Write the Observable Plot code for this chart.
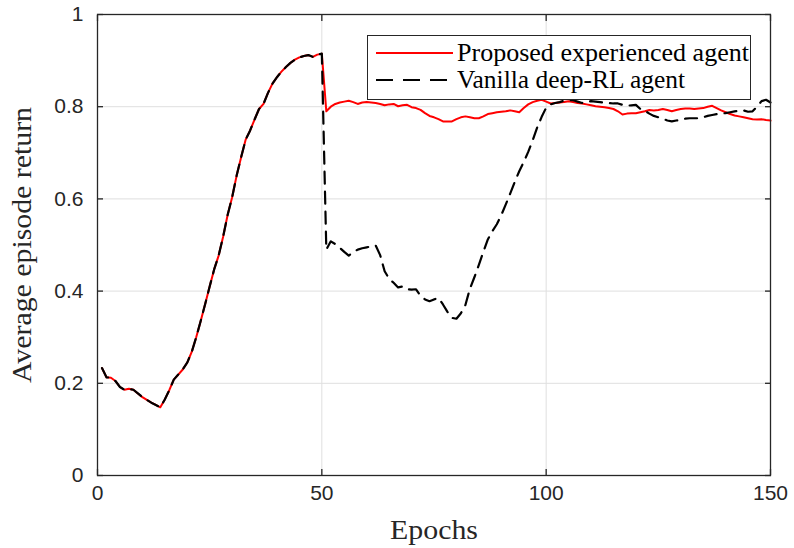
<!DOCTYPE html>
<html>
<head>
<meta charset="utf-8">
<script src="https://cdn.jsdelivr.net/npm/d3@7"></script>
<script src="https://cdn.jsdelivr.net/npm/@observablehq/plot@0.6"></script>
<style>
  html, body { margin: 0; padding: 0; background: #fff; }
  #chart { width: 794px; height: 548px; }
  .serif-text { font-family: 'Liberation Serif', 'Times New Roman', serif !important; }
</style>
</head>
<body>
<div id="chart"></div>
<script>
// ---- data ----
const xTicks = [0, 50, 100, 150];
const yTicks = [0, 0.2, 0.4, 0.6, 0.8, 1];
const seriesNames = ["Proposed experienced agent", "Vanilla deep-RL agent"];

// epochs 1..50: both agents identical
const warmup = [
  0.233, 0.213, 0.212, 0.205, 0.192, 0.186, 0.188, 0.186, 0.178, 0.170,
  0.164, 0.158, 0.153, 0.148, 0.165, 0.185, 0.208, 0.219, 0.230, 0.245,
  0.268, 0.300, 0.335, 0.372, 0.410, 0.447, 0.477, 0.518, 0.565, 0.603,
  0.650, 0.690, 0.728, 0.748, 0.772, 0.795, 0.806, 0.830, 0.850, 0.864,
  0.876, 0.886, 0.895, 0.902, 0.907, 0.910, 0.912, 0.908, 0.913, 0.915
];
// epochs 51..150
const proposedLate = [
  0.790, 0.800, 0.806, 0.809, 0.811, 0.813, 0.810, 0.806, 0.809, 0.810,
  0.809, 0.808, 0.806, 0.803, 0.805, 0.806, 0.801, 0.803, 0.804, 0.799,
  0.797, 0.793, 0.786, 0.780, 0.777, 0.773, 0.768, 0.768, 0.768, 0.773,
  0.777, 0.779, 0.777, 0.775, 0.775, 0.779, 0.784, 0.786, 0.788, 0.789,
  0.790, 0.792, 0.790, 0.788, 0.797, 0.805, 0.810, 0.813, 0.815, 0.811,
  0.807, 0.808, 0.809, 0.810, 0.812, 0.810, 0.808, 0.807, 0.805, 0.803,
  0.801, 0.800, 0.799, 0.797, 0.795, 0.790, 0.783, 0.785, 0.786, 0.786,
  0.788, 0.790, 0.793, 0.792, 0.793, 0.795, 0.793, 0.790, 0.793, 0.795,
  0.796, 0.796, 0.795, 0.796, 0.797, 0.800, 0.802, 0.797, 0.792, 0.788,
  0.784, 0.781, 0.779, 0.777, 0.775, 0.773, 0.772, 0.773, 0.771, 0.770
];
const vanillaLate = [
  0.490, 0.508, 0.502, 0.494, 0.485, 0.477, 0.485, 0.490, 0.493, 0.495,
  0.497, 0.499, 0.478, 0.443, 0.427, 0.418, 0.408, 0.410, 0.404, 0.403,
  0.404, 0.390, 0.382, 0.378, 0.382, 0.385, 0.371, 0.355, 0.342, 0.340,
  0.352, 0.370, 0.405, 0.430, 0.457, 0.485, 0.512, 0.530, 0.545, 0.565,
  0.588, 0.612, 0.637, 0.660, 0.680, 0.702, 0.727, 0.755, 0.778, 0.798,
  0.805, 0.808, 0.810, 0.813, 0.814, 0.814, 0.811, 0.808, 0.810, 0.812,
  0.811, 0.810, 0.809, 0.808, 0.807, 0.807, 0.804, 0.802, 0.803, 0.804,
  0.795, 0.791, 0.785, 0.780, 0.777, 0.774, 0.770, 0.768, 0.770, 0.772,
  0.774, 0.775, 0.775, 0.775, 0.777, 0.780, 0.782, 0.784, 0.785, 0.786,
  0.788, 0.790, 0.791, 0.792, 0.789, 0.790, 0.800, 0.812, 0.815, 0.809
];

const proposed = warmup.concat(proposedLate);
const vanilla = warmup.concat(vanillaLate);
const rows = proposed.map((v, i) => ({epoch: i + 1, proposed: v, vanilla: vanilla[i]}));

const axisColor = "#262626";
const gridColor = "#dfdfdf";
const tickLen = -6;

const chart = Plot.plot({
  width: 794,
  height: 548,
  marginLeft: 97,
  marginRight: 24,
  marginTop: 14,
  marginBottom: 73,
  style: {fontFamily: "'Liberation Sans', Arial, sans-serif", fontSize: "21px", color: axisColor, background: "#fff"},
  x: {domain: [0, 150]},
  y: {domain: [0, 1]},
  marks: [
    Plot.gridX(xTicks, {stroke: gridColor, strokeOpacity: 1}),
    Plot.gridY(yTicks, {stroke: gridColor, strokeOpacity: 1}),
    Plot.line(rows, {x: "epoch", y: "proposed", stroke: "#ff0000", strokeWidth: 2}),
    Plot.line(rows, {x: "epoch", y: "vanilla", stroke: "#000000", strokeWidth: 2.2, strokeDasharray: "12,8"}),
    Plot.frame({stroke: axisColor, strokeWidth: 1.3}),
    Plot.axisX(xTicks, {anchor: "bottom", tickSize: tickLen, tickPadding: 16, label: null, stroke: axisColor, strokeWidth: 1.3, tickFormat: d => String(d)}),
    Plot.axisX(xTicks, {anchor: "top", tickSize: tickLen, label: null, stroke: axisColor, strokeWidth: 1.3, fill: "none"}),
    Plot.axisY(yTicks, {anchor: "left", tickSize: tickLen, tickPadding: 20, label: null, stroke: axisColor, strokeWidth: 1.3, tickFormat: d => String(d)}),
    Plot.axisY(yTicks, {anchor: "right", tickSize: tickLen, label: null, stroke: axisColor, strokeWidth: 1.3, fill: "none"})
  ]
});

document.getElementById("chart").appendChild(chart);

// ---- axis titles and legend ----
const svg = d3.select(chart);

svg.append("text")
  .attr("class", "serif-text")
  .attr("x", 434).attr("y", 539)
  .attr("text-anchor", "middle")
  .attr("font-size", 28)
  .attr("fill", axisColor)
  .attr("textLength", 88).attr("lengthAdjust", "spacingAndGlyphs")
  .text("Epochs");

svg.append("text")
  .attr("class", "serif-text")
  .attr("transform", "translate(31,245) rotate(-90)")
  .attr("text-anchor", "middle")
  .attr("font-size", 27)
  .attr("fill", axisColor)
  .attr("textLength", 276).attr("lengthAdjust", "spacingAndGlyphs")
  .text("Average episode return");

const lg = svg.append("g");
lg.append("rect")
  .attr("x", 367.5).attr("y", 35.5).attr("width", 383).attr("height", 64)
  .attr("fill", "#fff").attr("stroke", axisColor).attr("stroke-width", 1);
const legendStyles = [
  {stroke: "#ff0000", dash: null, width: 2},
  {stroke: "#000000", dash: "17,10", width: 2.2}
];
seriesNames.forEach((name, i) => {
  const cy = 53 + i * 27;
  lg.append("line")
    .attr("x1", 376).attr("x2", 453).attr("y1", cy).attr("y2", cy)
    .attr("stroke", legendStyles[i].stroke)
    .attr("stroke-width", legendStyles[i].width)
    .attr("stroke-dasharray", legendStyles[i].dash);
  lg.append("text")
    .attr("class", "serif-text")
    .attr("x", 457).attr("y", cy + 8)
    .attr("text-anchor", "start")
    .attr("font-size", 25)
    .attr("fill", "#000")
    .attr("textLength", i === 0 ? 292 : 228).attr("lengthAdjust", "spacingAndGlyphs")
    .text(name);
});
</script>
</body>
</html>
